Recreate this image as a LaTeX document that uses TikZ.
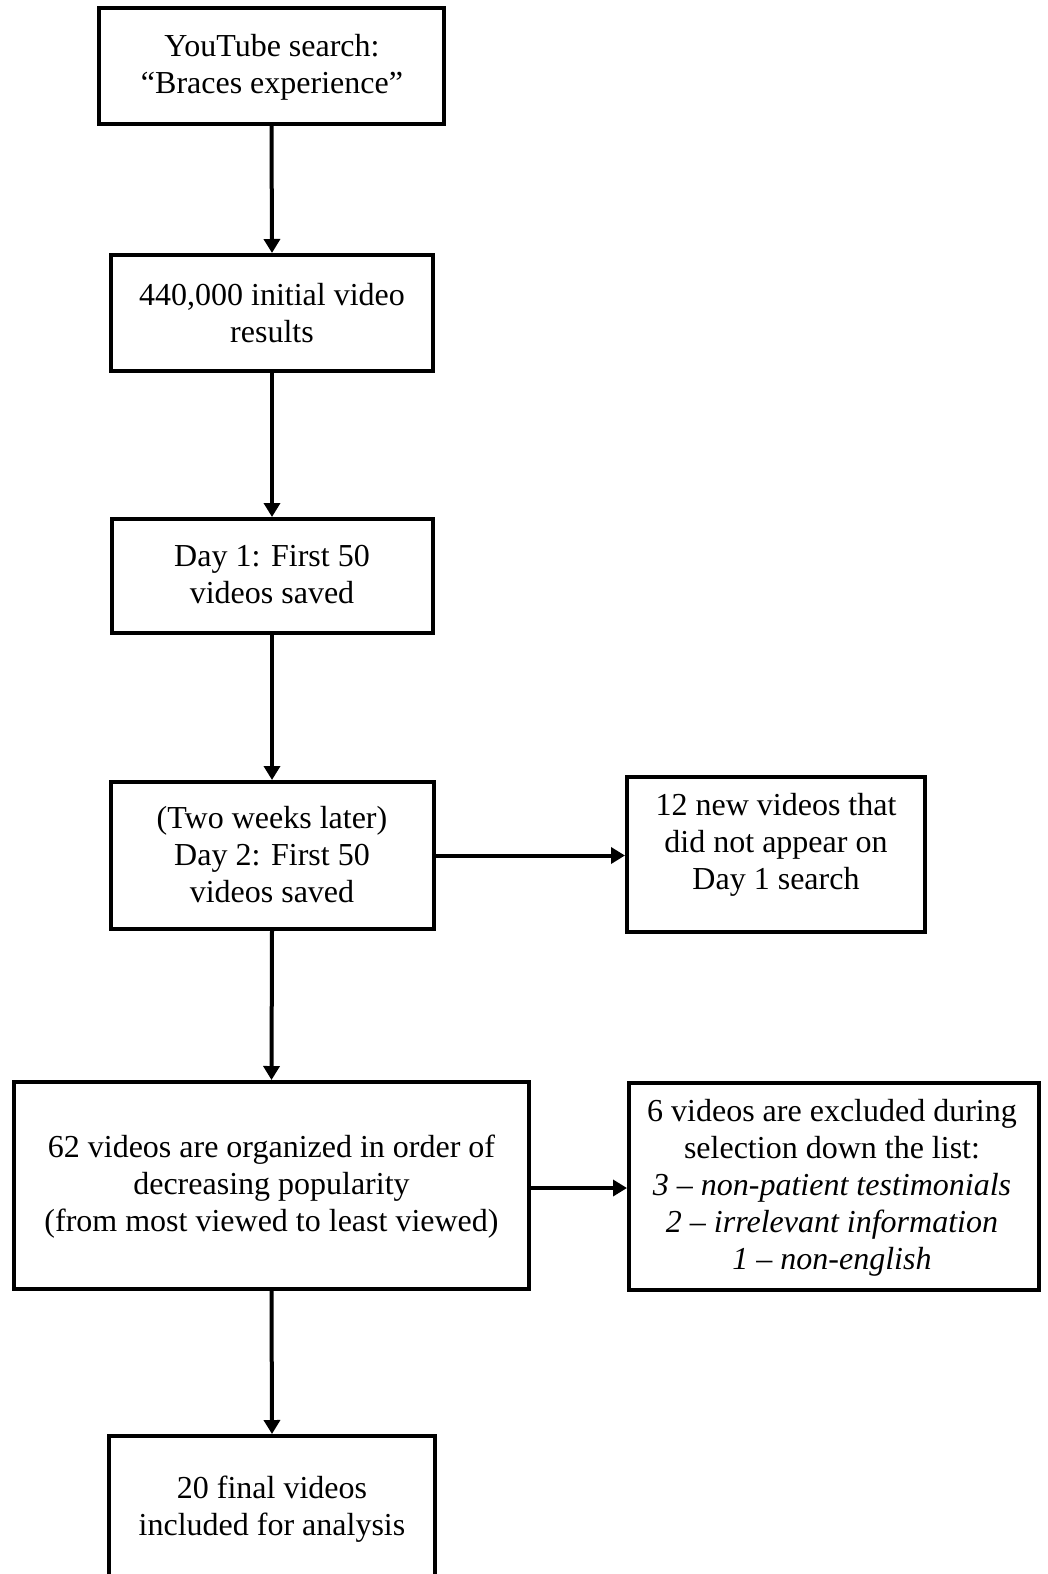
\documentclass[tikz,border=0pt]{standalone}
\usepackage{fontspec}
\setmainfont{Liberation Serif}
\usetikzlibrary{arrows.meta}
\tikzset{
  box/.style={draw=black, line width=4pt, rectangle, inner sep=0pt},
  txt/.style={align=center, inner sep=0pt, font=\fontsize{32}{37}\selectfont},
  conn/.style={line width=4pt, -{Triangle[length=14pt,width=16pt]}}
}
\begin{document}
\begin{tikzpicture}[x=1pt,y=-1pt]
\useasboundingbox (0,0) rectangle (1047,1574);
\clip (0,0) rectangle (1047,1574);
\fill[white] (0,0) rectangle (1047,1574);
% boxes
\node[box, minimum width=345pt, minimum height=116pt] (b1) at (271.5,66) {};
\node[box, minimum width=322pt, minimum height=116pt] (b2) at (272,313) {};
\node[box, minimum width=321pt, minimum height=114pt] (b3) at (272,576) {};
\node[box, minimum width=323pt, minimum height=147pt] (b4) at (272,855.5) {};
\node[box, minimum width=298pt, minimum height=155pt] (b5) at (776,854.5) {};
\node[box, minimum width=515pt, minimum height=207pt] (b6) at (271.5,1185.5) {};
\node[box, minimum width=410pt, minimum height=207pt] (b7) at (834,1186.5) {};
\node[box, minimum width=326pt, minimum height=170pt] (b8) at (272,1521) {};
% texts
\node[txt] (t1) at (272,68) {\strut YouTube search:\\\strut “Braces experience”};
\node[txt] (t2) at (272,316.5) {\strut 440,000 initial video\\\strut results};
\node[txt] (t3) at (272,578) {\strut Day 1: First 50\\\strut videos saved};
\node[txt] (t4) at (272,858) {\strut (Two weeks later)\\\strut Day 2: First 50\\\strut videos saved};
\node[txt] (t5) at (776,845.5) {\strut 12 new videos that\\\strut did not appear on\\\strut Day 1 search};
\node[txt] (t6) at (271.5,1187) {\strut 62 videos are organized in order of\\\strut decreasing popularity\\\strut (from most viewed to least viewed)};
\node[txt] (t7) at (832,1188) {\strut 6 videos are excluded during\\\strut selection down the list:\\\strut\textit{3 – non-patient testimonials}\\\strut\textit{2 – irrelevant information}\\\strut\textit{1 – non-english}};
\node[txt] (t8) at (272,1510) {\strut 20 final videos\\\strut included for analysis};
% connectors
\draw[conn] (b1.south) -- (b2.north);
\draw[conn] (b2.south) -- (b3.north);
\draw[conn] (b3.south) -- (b4.north);
\draw[conn] (b4.south) -- (b6.north);
\draw[conn] (b6.south) -- (b8.north);
\draw[conn] (b4.east) -- (b4.east -| b5.west);
\draw[conn] ([yshift=-2.5pt]b6.east) -- ([yshift=-2.5pt]b6.east -| b7.west);
\end{tikzpicture}
\end{document}
